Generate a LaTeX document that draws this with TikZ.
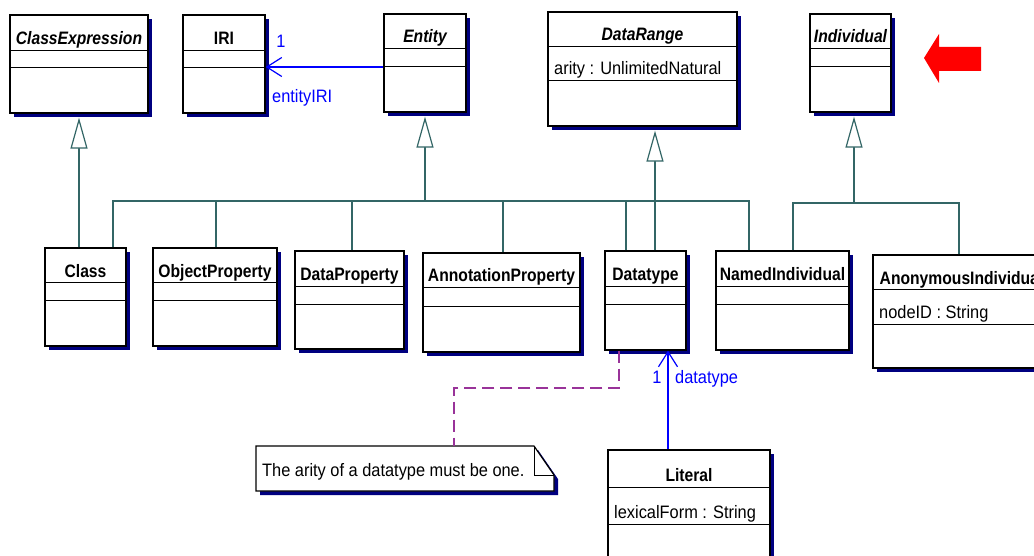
\documentclass[tikz,border=0pt]{standalone}
\usepackage{fontspec}
\setmainfont{Liberation Sans}[FakeStretch=0.91,
  BoldFeatures={FakeStretch=0.87},
  BoldItalicFeatures={FakeStretch=0.87}]
\usetikzlibrary{arrows.meta,fit}

\definecolor{umlnavy}{RGB}{0,0,128}
\definecolor{umlteal}{RGB}{51,102,102}
\definecolor{umlblue}{RGB}{0,0,255}
\definecolor{umlpurple}{RGB}{153,51,153}
\definecolor{umlred}{RGB}{255,0,0}

\newcommand\umlfont{\fontsize{18}{21}\selectfont}

\tikzset{
  umlframe/.style={draw=black, line width=1.3pt, fill=white, inner sep=0pt},
  umlshadow/.style={fill=umlnavy},
  divider/.style={draw=black, line width=1pt},
  classname/.style={anchor=base, inner sep=0pt, font=\umlfont\bfseries},
  attrtext/.style={anchor=base west, inner sep=0pt, font=\umlfont},
  genline/.style={draw=umlteal, line width=1.2pt},
  gen/.style={genline, -{Triangle[open, length=31pt, width=17pt, fill=white]}},
  assoc/.style={draw=umlblue, line width=1.2pt, -{Straight Barb[length=15pt, width=19pt]}},
  rolelabel/.style={text=umlblue, inner sep=0pt, font=\umlfont},
  noteline/.style={draw=umlpurple, line width=1.2pt, dash pattern=on 12pt off 6pt},
}

% class box: name, x1, y1, x2, y2, first divider, second divider, title, attribute
\newcommand\umlclass[9]{%
  \fill[umlshadow] (#2+4,#3+4) rectangle (#4+4,#5+4);
  \node[umlframe, fit={(#2,#3) (#4,#5)}] (#1) {};
  \draw[divider] (#2,#6) -- (#4,#6) (#2,#7) -- (#4,#7);
  \node[classname] at ({(#2+#4)/2},#6-6) {#8};
  \node[attrtext] at (#2+6,#7-6) {#9};
}

\begin{document}
\begin{tikzpicture}[x=1pt, y=-1pt, font=\umlfont]
\useasboundingbox (0,0) rectangle (1034,556);
\clip (0,0) rectangle (1034,556);

% upper row
\umlclass{CE}{10}{15}{148}{113}{51}{68}{\itshape ClassExpression}{}
\umlclass{IRI}{183}{15}{265}{113}{51}{68}{IRI}{}
\umlclass{Entity}{384}{14}{466}{112}{49}{67}{\itshape Entity}{}
\umlclass{DR}{548}{12}{737}{126}{47}{81}{\itshape DataRange}{arity : UnlimitedNatural}
\umlclass{Ind}{810}{14}{891}{112}{49}{67}{\itshape Individual}{}

% lower row
\umlclass{Class}{45}{248}{126}{346}{283}{301}{Class}{}
\umlclass{OP}{153}{248}{277}{346}{283}{301}{ObjectProperty}{}
\umlclass{DP}{295}{251}{404}{349}{287}{304}{DataProperty}{}
\umlclass{AP}{423}{253}{580}{352}{288}{306}{AnnotationProperty}{}
\umlclass{DT}{605}{251}{686}{350}{287}{304}{Datatype}{}
\umlclass{NI}{716}{251}{849}{350}{287}{304}{NamedIndividual}{}
\umlclass{AI}{873}{255}{1050}{368}{290}{324}{AnonymousIndividual}{nodeID : String}
\umlclass{Lit}{608}{450}{770}{580}{487}{524}{Literal}{lexicalForm : String}

% note
\fill[umlshadow] (260,450) -- (538,450) -- (558,479) -- (558,495) -- (260,495) -- cycle;
\node[fit={(256,446) (554,491)}, inner sep=0pt] (Note) {};
\draw[black, line width=1.2pt, fill=white]
  (256,446) -- (534,446) -- (554,475) -- (554,491) -- (256,491) -- cycle;
\draw[black, line width=1pt] (534,446) -- (534,475) -- (554,475);
\node[attrtext] (NoteText) at (262,476) {The arity of a datatype must be one.};

% generalizations
\draw[gen] (CE.south |- Class.north) -- ([yshift=-4pt]CE.south);

\coordinate (ebus) at (425,201);
\draw[genline] (113,0 |- Class.north) |- (ebus);
\draw[genline] (216,0 |- OP.north) |- (ebus);
\draw[genline] (352,0 |- DP.north) |- (ebus);
\draw[genline] (503,0 |- AP.north) |- (ebus);
\draw[genline] (626,0 |- DT.north) |- (ebus);
\draw[genline] (749,0 |- NI.north) |- (ebus);
\draw[gen] (ebus) -- ([yshift=-4pt]Entity.south);

\draw[gen] (655,0 |- DT.north) -- ([shift={(12.5,4)}]DR.south);

\coordinate (ibus) at (854,203);
\draw[genline] (793,0 |- NI.north) |- (ibus);
\draw[genline] (959,0 |- AI.north) |- (ibus);
\draw[gen] (ibus) -- ([shift={(3.5,4)}]Ind.south);

% associations
\draw[assoc] (Entity.west |- 0,67) -- (IRI.east |- 0,67);
\node[rolelabel, anchor=base] at (281,48) {1};
\node[rolelabel, anchor=base west] at (272,103) {entityIRI};

\draw[assoc] (668,0 |- Lit.north) -- (668,0 |- DT.south);
\node[rolelabel, anchor=base] at (657,383) {1};
\node[rolelabel, anchor=base west] at (675,383) {datatype};

% note anchor
\draw[noteline] (619,0 |- DT.south) -- (619,388) -| (Note.north -| 454,0);

% pointer
\fill[umlred] (924,58) -- (939,34) -- (939,47) -- (981,47) -- (981,71)
  -- (939,71) -- (939,83) -- cycle;
\end{tikzpicture}
\end{document}
